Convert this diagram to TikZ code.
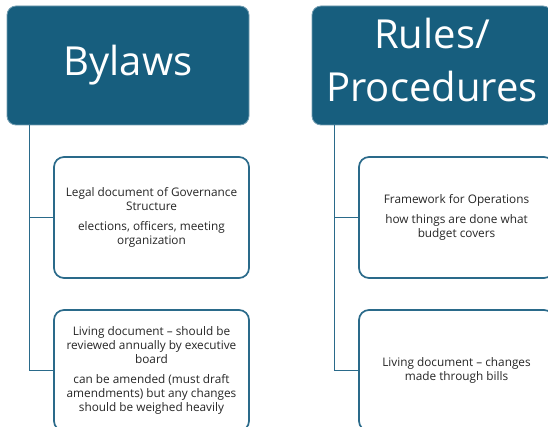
\documentclass[tikz,border=0pt]{standalone}
\usepackage{fontspec}
\setmainfont{Open Sans}
\definecolor{headfill}{HTML}{175E7E}
\definecolor{boxline}{HTML}{2A6A8A}
\definecolor{txt}{HTML}{262626}
\begin{document}
\begin{tikzpicture}[x=1pt,y=-1pt,
  head/.style={draw=headfill!60!white,line width=0.8pt,fill=headfill,rounded corners=9pt,text=white,
    minimum width=242pt,minimum height=119pt,inner sep=0pt,align=center,
    font=\fontsize{40}{53}\selectfont},
  child/.style={draw=boxline,line width=1.7pt,fill=white,rounded corners=10pt,text=txt,
    minimum width=195pt,minimum height=121pt,inner sep=0pt,align=center,
    font=\fontsize{11.8}{14}\selectfont},
  conn/.style={draw=boxline,line width=1.7pt}]
\useasboundingbox (0,0) rectangle (548,427);
\clip (0,0) rectangle (548,427);
\fill[white] (0,0) rectangle (548,427);
\node[head] (bylaws) at (128,65.5) {Bylaws};
\node[head,minimum width=240pt] (rules) at (432,65.5) {};
\node[white,align=center,font=\fontsize{40}{53}\selectfont,inner sep=0pt] (rulestext) at ([yshift=5pt]rules.center) {Rules/\\Procedures};
\node[child] (b1) at (151.5,217.5) {Legal document of Governance\\Structure\\[6pt]elections, officers, meeting\\organization};
\node[child] (b2) at (151.5,370.5) {Living document -- should be\\reviewed annually by executive\\board\\[6pt]can be amended (must draft\\amendments) but any changes\\should be weighed heavily};
\node[child] (r1) at (456.5,217.5) {Framework for Operations\\[6pt]how things are done what\\budget covers};
\node[child] (r2) at (456.5,370.5) {Living document -- changes\\made through bills};
\draw[conn] ([xshift=23pt]bylaws.south west) |- (b1.west);
\draw[conn] ([xshift=23pt]bylaws.south west) |- (b2.west);
\draw[conn] ([xshift=23pt]rules.south west) |- (r1.west);
\draw[conn] ([xshift=23pt]rules.south west) |- (r2.west);
\end{tikzpicture}
\end{document}
